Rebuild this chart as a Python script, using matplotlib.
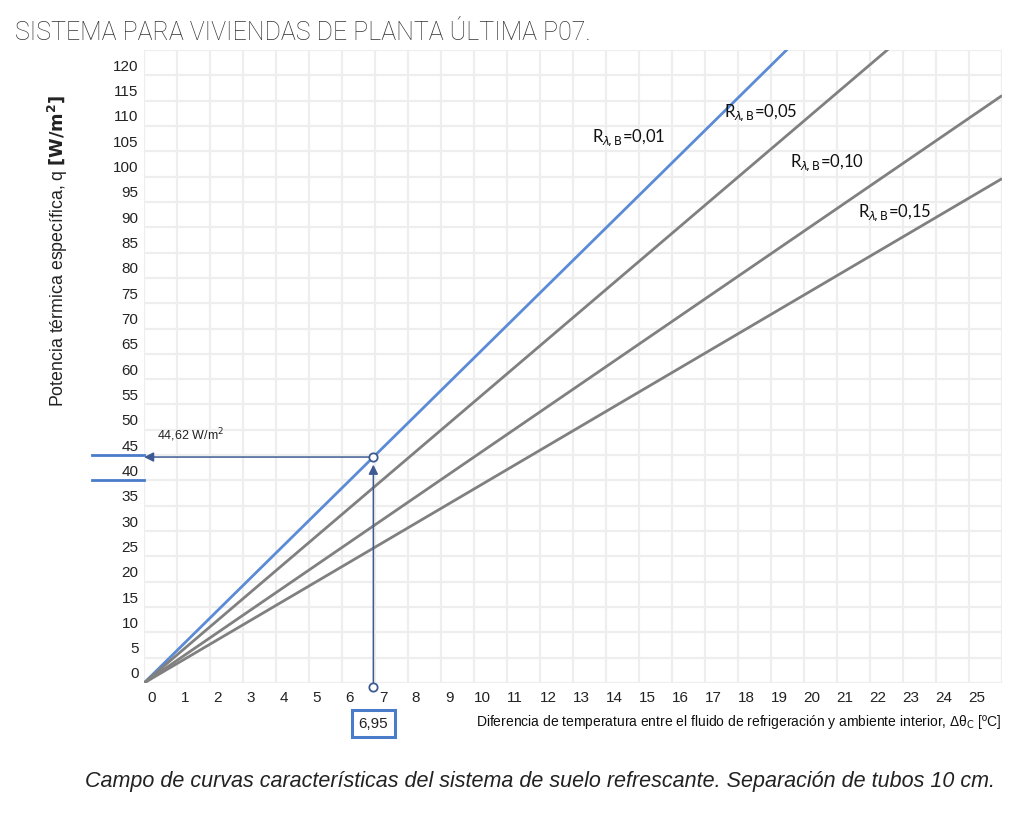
import matplotlib
matplotlib.use("Agg")
import matplotlib.pyplot as plt
from matplotlib.transforms import ScaledTranslation

# ---- data ----
x_ends = [0, 26]                       # ΔθC range used for the straight lines
series_labels = ["0,01", "0,05", "0,10", "0,15"]
q_at_ends = [[0, 166.9], [0, 144.3], [0, 116.0], [0, 99.6]]
series_colors = ["#5b8bd6", "#808080", "#808080", "#808080"]
label_pos = [(14.7, 107.7), (18.7, 112.6), (20.7, 102.8), (22.75, 92.9)]
x_ticks = list(range(0, 27))
x_ticklabels = [str(v) for v in range(0, 26)] + [""]
y_ticks = list(range(0, 126, 5))
y_ticklabels = [str(v) for v in range(0, 121, 5)] + [""]
point_x = 6.95
point_q = 44.62
point_x_label = "6,95"
point_q_label = "44,62 W/m$^2$"

plt.rcParams['font.family'] = ['Liberation Sans', 'DejaVu Sans']

fig = plt.figure(figsize=(10.24, 8.24), dpi=100)
ax = fig.add_axes([144/1024, 1 - 683/824, (1002-144)/1024, (683-50)/824])

ax.set_xlim(0, 26)
ax.set_ylim(0, 125)
for s in ax.spines.values():
    s.set_visible(False)
ax.set_xticks(x_ticks)
ax.set_xticklabels(x_ticklabels, fontsize=11, color="#222222")
ax.set_yticks(y_ticks)
ax.set_yticklabels(y_ticklabels, fontsize=11, color="#222222")
ax.tick_params(length=0, pad=4)
ax.tick_params(axis='x', pad=6)
ax.grid(True, color="#eeeeee", linewidth=1.6)
ax.set_axisbelow(True)

# tick labels offset like in the reference
for lab in ax.get_yticklabels():
    lab.set_transform(lab.get_transform() + ScaledTranslation(0, 0.10, fig.dpi_scale_trans))
for lab in ax.get_xticklabels():
    lab.set_transform(lab.get_transform() + ScaledTranslation(0.08, 0, fig.dpi_scale_trans))

for lbl, q, c, (tx, ty) in zip(series_labels, q_at_ends, series_colors, label_pos):
    ax.plot(x_ends, q, color=c, linewidth=2.0, solid_capstyle='butt', zorder=3)
    ax.text(tx, ty, r'R$_{\lambda\!\mathrm{,B}}$=' + lbl, family=['Lato', 'DejaVu Sans'],
            fontsize=12, ha='center', va='center', color="#111111", zorder=4)

acol = "#3d5b92"
# horizontal arrow to the q axis
ax.annotate("", xy=(0, point_q), xytext=(point_x, point_q),
            arrowprops=dict(arrowstyle="-|>", color=acol, lw=1.1, mutation_scale=14,
                            shrinkA=3, shrinkB=0), annotation_clip=False, zorder=5)
# vertical arrow from the x axis
ax.annotate("", xy=(point_x, point_q - 1.5), xytext=(point_x, -0.7),
            arrowprops=dict(arrowstyle="-|>", color=acol, lw=1.1, mutation_scale=14,
                            shrinkA=3, shrinkB=0), annotation_clip=False, zorder=5)
ax.plot([point_x, point_x], [point_q, -0.7], linestyle='none', marker='o', ms=6,
        mfc='white', mec=acol, mew=1.3, clip_on=False, zorder=6)
ax.text(0.4, point_q + 2.5, point_q_label, fontsize=9, color="#222222", ha='left', va='bottom')

# blue brackets around the 40 label
for qv in (45, 40):
    ax.plot([-1.58, 0], [qv, qv], color="#4a7cc9", lw=2, clip_on=False, zorder=5)

# value box below the x axis
ax.text(point_x, -8, point_x_label, fontsize=11, ha='center', va='center', color="#222222",
        bbox=dict(boxstyle='square,pad=0.45', fc='white', ec="#4a7cc9", lw=2.2),
        clip_on=False)

fig.text(15/1024, 1 - 33/824, "SISTEMA PARA VIVIENDAS DE PLANTA ÚLTIMA P07.",
         family=['Roboto', 'Liberation Sans', 'DejaVu Sans'], fontweight='light',
         fontsize=18, color="#333333", ha='left', va='center')
fig.text(58/1024, 1 - 251/824, r'Potencia térmica específica, q $\mathbf{[W/m^2]}$',
         rotation=90, fontsize=12.8, ha='center', va='center', color="#222222")
fig.text(1001/1024, 1 - 722/824,
         r'Diferencia de temperatura entre el fluido de refrigeración y ambiente interior, Δθ$_\mathrm{C}$ [ºC]',
         fontsize=10, ha='right', va='center', color="#111111")
fig.text(540/1024, 1 - 781/824,
         "Campo de curvas características del sistema de suelo refrescante. Separación de tubos 10 cm.",
         fontsize=15.5, style='italic', ha='center', va='center', color="#222222")

fig.savefig("out.png", dpi=100, facecolor='white')
